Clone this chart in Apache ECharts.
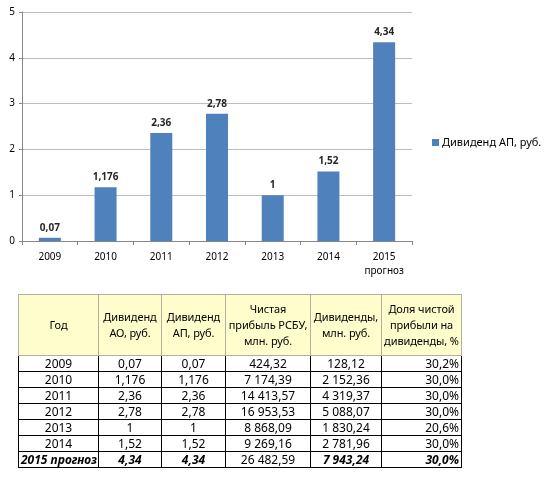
<!DOCTYPE html>
<html><head><meta charset="utf-8">
<script src="https://cdn.jsdelivr.net/npm/echarts@6/dist/echarts.min.js"></script>
<style>
html,body{margin:0;padding:0;background:#fff;}
#chart{position:absolute;left:0;top:0;width:550px;height:482px;}
#tbl{position:absolute;left:18px;top:294px;width:443px;border-collapse:collapse;table-layout:fixed;font-family:"Noto Sans",sans-serif;font-size:12px;color:#000;}
#tbl td,#tbl th{border:1px solid #000;padding:0 2px;white-space:nowrap;overflow:visible;}
#tbl th{background:#FFFDCB;font-weight:normal;font-size:11px;letter-spacing:-0.1px;line-height:16px;height:60px;border-color:#B0B0A0;vertical-align:middle;text-align:center;}
#tbl thead tr{border-bottom:1px solid #000;}
#tbl td{height:15px;line-height:14px;text-align:center;}
#tbl td.r{text-align:right;}
#tbl tr.last td{font-weight:bold;font-style:italic;}
#tbl tr.last td.n{font-weight:normal;font-style:normal;}
</style>
</head><body>
<div id="chart"></div>
<table id="tbl">
<colgroup><col style="width:80px"><col style="width:63px"><col style="width:64px"><col style="width:85px"><col style="width:71px"><col style="width:80px"></colgroup>
<thead><tr id="hdr"></tr></thead>
<tbody id="body"></tbody>
</table>
<script>
var categories = ['2009','2010','2011','2012','2013','2014','2015\nпрогноз'];
var dividendAP = [0.07, 1.176, 2.36, 2.78, 1, 1.52, 4.34];
var seriesName = 'Дивиденд АП, руб.';
var yTicks = [0,1,2,3,4,5];

var tableHeaders = ['Год','Дивиденд<br>АО, руб.','Дивиденд<br>АП, руб.','Чистая<br>прибыль РСБУ,<br>млн. руб.','Дивиденды,<br>млн. руб.','Доля чистой<br>прибыли на<br>дивиденды, %'];
var tblYears = ['2009','2010','2011','2012','2013','2014','2015 прогноз'];
var tblAO = ['0,07','1,176','2,36','2,78','1','1,52','4,34'];
var tblAP = ['0,07','1,176','2,36','2,78','1','1,52','4,34'];
var tblProfit = ['424,32','7 174,39','14 413,57','16 953,53','8 868,09','9 269,16','26 482,59'];
var tblDivs = ['128,12','2 152,36','4 319,37','5 088,07','1 830,24','2 781,96','7 943,24'];
var tblShare = ['30,2%','30,0%','30,0%','30,0%','20,6%','30,0%','30,0%'];

// table
var hdr = document.getElementById('hdr');
tableHeaders.forEach(function(h){ var th=document.createElement('th'); th.innerHTML=h; hdr.appendChild(th); });
var body = document.getElementById('body');
for (var i=0;i<tblYears.length;i++){
  var tr=document.createElement('tr');
  if(i===tblYears.length-1) tr.className='last';
  var cells=[[tblYears[i],''],[tblAO[i],''],[tblAP[i],''],[tblProfit[i],'n'],[tblDivs[i],''],[tblShare[i],'r']];
  cells.forEach(function(c){ var td=document.createElement('td'); td.textContent=c[0]; if(c[1]) td.className=c[1]; tr.appendChild(td); });
  body.appendChild(tr);
}

var chart = echarts.init(document.getElementById('chart'), null, {renderer:'canvas'});
chart.setOption({
  animation:false,
  textStyle:{fontFamily:'"Noto Sans", sans-serif'},
  grid:{left:22, top:12, width:390, height:229, containLabel:false},
  legend:{
    data:[seriesName], left:427, top:132, itemWidth:7, itemHeight:7, itemGap:5, icon:'rect',
    textStyle:{fontSize:11, color:'#000', padding:[0,0,0,-2], fontFamily:'"Noto Sans", sans-serif'}
  },
  xAxis:{
    type:'category', data:categories,
    axisLine:{show:true, lineStyle:{color:'#868686'}},
    axisTick:{show:true, length:4, lineStyle:{color:'#868686'}},
    axisLabel:{fontSize:10, color:'#000', margin:9, lineHeight:14, fontFamily:'"Noto Sans", sans-serif'}
  },
  yAxis:{
    type:'value', min:0, max:5, interval:1,
    axisLine:{show:true, lineStyle:{color:'#868686'}},
    axisTick:{show:true, length:3, lineStyle:{color:'#868686'}},
    axisLabel:{fontSize:10, color:'#000', margin:7, fontFamily:'"Noto Sans", sans-serif'},
    splitLine:{show:true, lineStyle:{color:'#BDBDBD'}}
  },
  series:[{
    name:seriesName, type:'bar', data:dividendAP, barWidth:22,
    itemStyle:{color:'#4F81BD'},
    label:{show:true, position:'top', distance:5, fontSize:10, fontWeight:'bold', color:'#262626',
      fontFamily:'"Noto Sans", sans-serif',
      formatter:function(p){ return String(p.value).replace('.',','); }}
  }]
});
</script>
</body></html>
